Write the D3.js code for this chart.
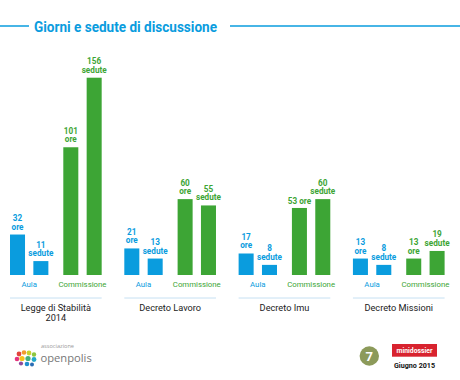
<!DOCTYPE html>
<html><head><meta charset="utf-8">
<script src="https://cdn.jsdelivr.net/npm/d3@7/dist/d3.min.js"></script>
<style>
html,body{margin:0;padding:0;background:#fff;}
svg{display:block;}
</style></head>
<body>
<svg id="chart" width="460" height="380"></svg>
<script>
// ---- data ----
const title = "Giorni e sedute di discussione";
const categories = ["Legge di Stabilità 2014", "Decreto Lavoro", "Decreto Imu", "Decreto Missioni"];
const categoryLines = [["Legge di Stabilità", "2014"], ["Decreto Lavoro"], ["Decreto Imu"], ["Decreto Missioni"]];
const sections = ["Aula", "Commissione"];
const measures = ["ore", "sedute"];
const aulaOre = [32, 21, 17, 13];
const aulaSedute = [11, 13, 8, 8];
const commissioneOre = [101, 60, 53, 13];
const commissioneSedute = [156, 55, 60, 19];
const footerPage = "7";
const footerBadge = "minidossier";
const footerDate = "Giugno 2015";

// ---- build ----
const BLUE = "#0a9cde", GREEN = "#3da535";
const svg = d3.select("#chart");
const values = {Aula: {ore: aulaOre, sedute: aulaSedute}, Commissione: {ore: commissioneOre, sedute: commissioneSedute}};
const colors = {Aula: BLUE, Commissione: GREEN};

const rows = [];
categories.forEach((c, i) => sections.forEach(s => measures.forEach(m => rows.push({cat: c, i, sec: s, m, v: values[s][m][i]}))));

const x0 = d3.scaleBand().domain(categories).range([10, 444.6]).paddingInner(0.198);
const xs = d3.scaleBand().domain(sections).range([0, x0.bandwidth()]).paddingInner(0.28);
const xm = d3.scaleBand().domain(measures).range([0, xs.bandwidth()]).paddingInner(0.357);
const maxV = d3.max(rows, d => d.v);
const y = d3.scaleLinear().domain([0, maxV]).range([275, 77.7]);

// title
const tg = svg.append("g");
tg.append("line").attr("x1", 0).attr("x2", 29).attr("y1", 26).attr("y2", 26).attr("stroke", BLUE).attr("stroke-width", 1.5);
tg.append("line").attr("x1", 230).attr("x2", 460).attr("y1", 26).attr("y2", 26).attr("stroke", BLUE).attr("stroke-width", 1.5);
tg.append("text").attr("x", 34).attr("y", 31.5).attr("textLength", 183).attr("lengthAdjust", "spacingAndGlyphs")
  .attr("font-family", "Roboto, sans-serif").attr("font-weight", 700).attr("font-size", 15.5).attr("fill", BLUE).text(title);

const bx = d => x0(d.cat) + xs(d.sec) + xm(d.m);

// bars
svg.append("g").selectAll("rect").data(rows).join("rect")
  .attr("x", bx).attr("width", xm.bandwidth())
  .attr("y", d => y(d.v)).attr("height", d => y(0) - y(d.v))
  .attr("fill", d => colors[d.sec]);

// value labels (one-line where neighbouring label is close above)
const oneLine = d => d.sec === "Commissione" && d.m === "ore" && d.cat === "Decreto Imu";
const lg = svg.append("g").attr("font-family", "Roboto, sans-serif").attr("font-weight", 700).attr("font-size", 8.2).attr("text-anchor", "middle");
rows.forEach(d => {
  const cx = bx(d) + xm.bandwidth() / 2;
  const top = y(d.v);
  const col = colors[d.sec];
  if (oneLine(d)) {
    lg.append("text").attr("x", cx).attr("y", top - 4).attr("fill", col).text(d.v + " " + d.m);
  } else {
    lg.append("text").attr("x", cx).attr("y", top - 13.5).attr("fill", col).text(d.v);
    lg.append("text").attr("x", cx).attr("y", top - 5).attr("fill", col).text(d.m);
  }
});

// section labels, separators, category labels
const gg = svg.append("g");
categories.forEach((c, i) => {
  sections.forEach(s => {
    gg.append("text").attr("x", x0(c) + xs(s) + xs.bandwidth() / 2).attr("y", 287)
      .attr("text-anchor", "middle").attr("font-family", "Roboto, sans-serif").attr("font-size", 7.8)
      .attr("fill", colors[s]).text(s);
  });
  gg.append("line").attr("x1", x0(c)).attr("x2", x0(c) + x0.bandwidth()).attr("y1", 298).attr("y2", 298)
    .attr("stroke", "#c6e0f2").attr("stroke-width", 1);
  categoryLines[i].forEach((t, k) => {
    gg.append("text").attr("x", x0(c) + x0.bandwidth() / 2).attr("y", 310.5 + k * 10.5)
      .attr("text-anchor", "middle").attr("font-family", "Roboto, sans-serif").attr("font-size", 9.2)
      .attr("fill", "#222").text(t);
  });
});

// footer: openpolis logo
const fg = svg.append("g");
const dots = [
  [19, 354, "#e2453c", 2.4], [24, 352.5, "#f29a2e", 2.3], [29, 353, "#c9d22f", 2.4], [34, 354.5, "#8dc63f", 2.2],
  [17, 359, "#e5337e", 2.3], [22, 358.5, "#f6c21c", 2.6], [28, 358.5, "#46b07a", 2.6], [34, 359.5, "#22a9c9", 2.4],
  [21, 363.5, "#8e4b9c", 2.1], [27, 364, "#1f8fcf", 2.3], [32, 364.5, "#2a6db4", 2.0]
];
fg.selectAll("circle").data(dots).join("circle").attr("cx", d => d[0]).attr("cy", d => d[1]).attr("r", d => d[3]).attr("fill", d => d[2]);
fg.append("text").attr("x", 41).attr("y", 348).attr("font-family", "Open Sans, sans-serif").attr("font-size", 5.6).attr("fill", "#999").text("associazione");
fg.append("text").attr("x", 40.5).attr("y", 361.5).attr("font-family", "Open Sans, sans-serif").attr("font-size", 11.2).attr("fill", "#777").text("openpolis");

// page number & badge
fg.append("circle").attr("cx", 369.3).attr("cy", 356).attr("r", 9.7).attr("fill", "#8c9a5a");
fg.append("text").attr("x", 369.3).attr("y", 360.8).attr("text-anchor", "middle").attr("font-family", "Roboto, sans-serif")
  .attr("font-weight", 700).attr("font-size", 13).attr("fill", "#fff").text(footerPage);
fg.append("rect").attr("x", 392).attr("y", 344).attr("width", 45).attr("height", 12.7).attr("fill", "#d8232f");
fg.append("text").attr("x", 414.5).attr("y", 352.6).attr("text-anchor", "middle").attr("font-family", "Roboto, sans-serif")
  .attr("font-weight", 700).attr("font-size", 6.8).attr("fill", "#fff").text(footerBadge);
fg.append("text").attr("x", 414.5).attr("y", 367.6).attr("text-anchor", "middle").attr("font-family", "Roboto, sans-serif")
  .attr("font-weight", 700).attr("font-size", 8).attr("textLength", 41).attr("lengthAdjust", "spacingAndGlyphs").attr("fill", "#111").text(footerDate);
</script>
</body></html>
